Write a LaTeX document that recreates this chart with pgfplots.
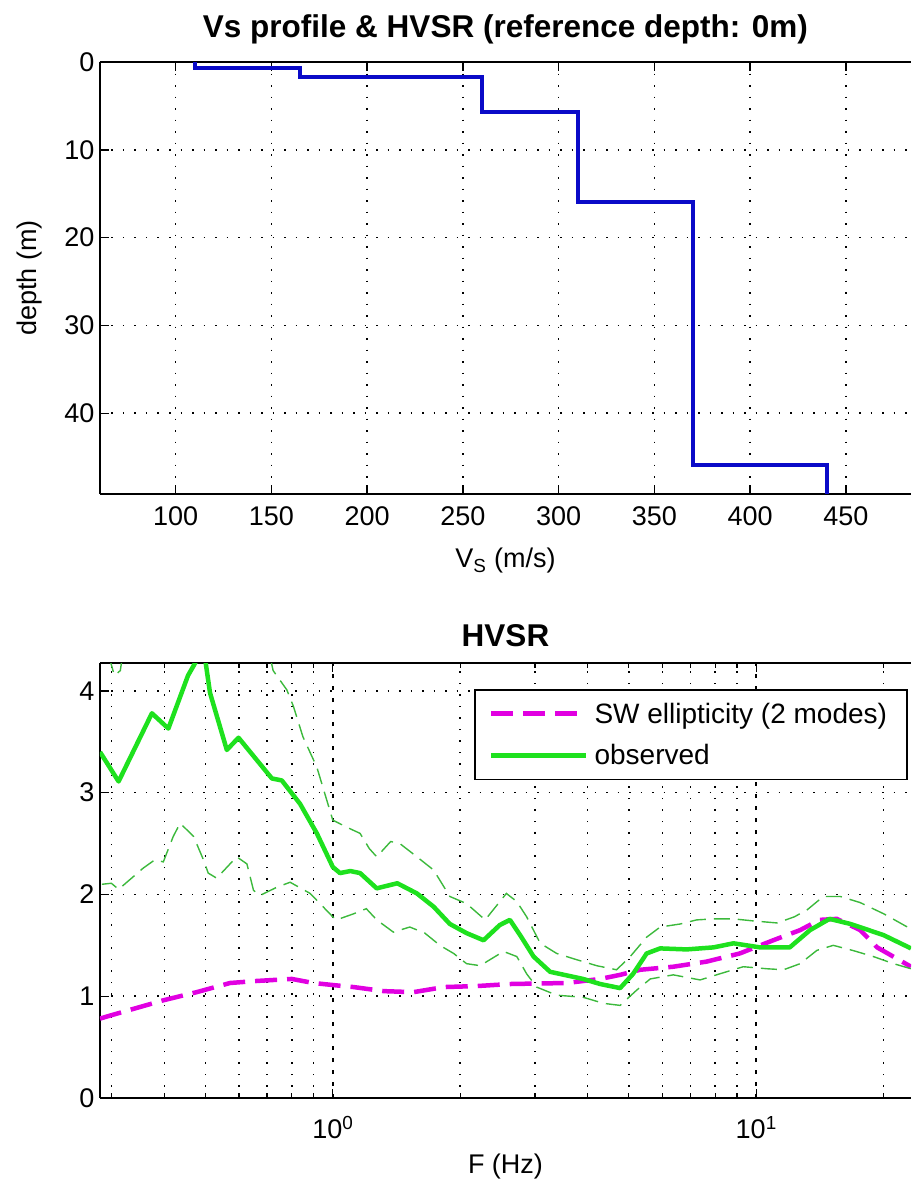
\documentclass[border=0pt]{standalone}
\usepackage{pgfplots}
\pgfplotsset{compat=1.18}
\usepackage{fontspec}
\setmainfont{Liberation Sans}

\definecolor{vsblue}{RGB}{10,10,200}
\definecolor{obsgreen}{RGB}{30,225,30}
\definecolor{stdgreen}{RGB}{60,185,60}
\definecolor{ellmag}{RGB}{225,0,225}

\newcommand{\lblfont}{\fontsize{27}{31}\selectfont}
\newcommand{\lgdfont}{\fontsize{28}{32}\selectfont}
\newcommand{\ttlfont}{\fontsize{31.5}{36}\selectfont\bfseries}

\pgfplotsset{
  mlgrid/.style={
    scale only axis,
    axis y line*=left,
    axis line style={line width=1.6pt},
    every tick/.style={black,line width=1.4pt},
    major tick length=9pt,
    minor tick length=5pt,
    grid=major,
    major grid style={black,line width=1.5pt,dash pattern=on 1.5pt off 10pt},
    minor grid style={black,line width=1.5pt,dash pattern=on 1.5pt off 10pt},
    tick label style={font=\lblfont},
    label style={font=\lblfont},
    title style={font=\ttlfont},
    /pgf/number format/assume math mode=true,
    yticklabel style={xshift=-2pt},
  }
}

\begin{document}
\begin{tikzpicture}
\useasboundingbox (0pt,0pt) rectangle (911pt,-1192pt);

% Shear-wave velocity profile
\begin{axis}[
  mlgrid,
  at={(100pt,-62pt)}, anchor=north west,
  width=811pt, height=432pt,
  xmin=60.5, xmax=484,
  ymin=0, ymax=49.2, y dir=reverse,
  xtick={100,150,...,450},
  ytick={0,10,20,30,40},
  xticklabel style={yshift=-9pt},
  title={Vs profile \& HVSR (reference depth: 0m)},
  title style={at={(axis description cs:0.5,1.062)},anchor=center},
  xlabel={V\textsubscript{S} (m/s)},
  xlabel style={at={(axis description cs:0.5,-0.155)},anchor=center},
  ylabel={depth (m)},
  ylabel style={at={(axis description cs:-0.087,0.5)},anchor=center,rotate=0},
]
\addplot[vsblue,line width=4pt,line join=miter] coordinates {
  (110,0) (110,0.7) (165,0.7) (165,1.7) (260,1.7) (260,5.7)
  (310,5.7) (310,15.9) (370,15.9) (370,45.9) (440,45.9) (440,49.2)
};
\end{axis}

% H/V spectral ratio
\begin{axis}[
  mlgrid,
  at={(100pt,-663pt)}, anchor=north west,
  width=811pt, height=435pt,
  xmode=log,
  xmin=0.282, xmax=23.2,
  ymin=0, ymax=4.274,
  xtick={1,10},
  xticklabels={10\textsuperscript{0},10\textsuperscript{1}},
  xticklabel style={yshift=-15pt},
  minor xtick={0.3,0.4,0.5,0.6,0.7,0.8,0.9,2,3,4,5,6,7,8,9,20},
  xminorgrids=true,
  major x grid style={black,line width=1.6pt,dash pattern=on 4pt off 8pt},
  ytick={0,1,2,3,4},
  title={HVSR},
  title style={at={(axis description cs:0.5,1.0485)},anchor=center},
  xlabel={F (Hz)},
  xlabel style={at={(axis description cs:0.5,-0.158)},anchor=center},
  legend style={
    at={(axis description cs:0.996,0.940)}, anchor=north east,
    draw=black, line width=1.4pt, fill=white,
    font=\lgdfont, inner xsep=14pt, inner ysep=11pt,
    row sep=16pt,
    nodes={inner xsep=6pt},
  },
  legend cell align=left,
  legend image code/.code={\draw[#1] (0pt,0pt) -- (95pt,0pt);},
]
\addplot[ellmag,line width=4.5pt,dash pattern=on 22pt off 10pt] coordinates {
  (0.282,0.78) (0.298,0.81) (0.398,0.96) (0.477,1.04) (0.572,1.13)
  (0.661,1.15) (0.80,1.17) (0.90,1.13) (1.0,1.11) (1.12,1.09)
  (1.32,1.05) (1.55,1.04) (1.83,1.09) (2.19,1.10) (2.62,1.12)
  (3.57,1.13) (4.28,1.17) (4.77,1.21) (5.32,1.26) (6.37,1.29)
  (7.63,1.34) (9.14,1.42) (10.97,1.55) (12.7,1.65) (14.1,1.75)
  (15.5,1.76) (17.6,1.65) (19.3,1.48) (23.2,1.29)
};
\addlegendentry{SW ellipticity (2 modes)}
\addplot[obsgreen,line width=4.5pt,line join=round] coordinates {
  (0.282,3.40) (0.312,3.11) (0.374,3.78) (0.409,3.63) (0.455,4.15)
  (0.48,4.32) (0.50,4.30) (0.513,3.98) (0.562,3.42) (0.599,3.54)
  (0.718,3.14) (0.758,3.12) (0.837,2.89) (0.917,2.60) (1.00,2.27)
  (1.04,2.21) (1.10,2.23) (1.16,2.21) (1.27,2.06) (1.42,2.11)
  (1.58,2.01) (1.73,1.88) (1.89,1.71) (2.07,1.62) (2.27,1.55)
  (2.48,1.70) (2.62,1.75) (2.77,1.60) (2.98,1.39) (3.26,1.24)
  (3.90,1.17) (4.28,1.12) (4.77,1.08) (5.12,1.22) (5.51,1.42)
  (5.93,1.47) (6.85,1.46) (7.93,1.48) (8.84,1.52) (10.2,1.48)
  (12.0,1.48) (13.4,1.65) (14.9,1.76) (16.7,1.71) (20.0,1.60)
  (23.2,1.47)
};
\addlegendentry{observed}
% standard deviation bounds of the observed ratio
\addplot[stdgreen,line width=1.4pt,dash pattern=on 16pt off 8pt,forget plot] coordinates {
  (0.282,4.8) (0.298,4.3) (0.305,4.15) (0.315,4.2) (0.33,4.8)
  (0.40,5.2) (0.50,5.5) (0.60,5.2) (0.68,4.7) (0.723,4.2)
  (0.779,4.01) (0.807,3.85) (0.85,3.55) (0.917,3.25) (1.0,2.73)
  (1.08,2.66) (1.16,2.60) (1.22,2.45) (1.27,2.37) (1.37,2.52)
  (1.44,2.50) (1.58,2.37) (1.73,2.24) (1.79,2.14) (1.89,1.98)
  (2.07,1.91) (2.29,1.75) (2.57,2.01) (2.72,1.93) (2.87,1.78)
  (3.09,1.52) (3.38,1.42) (3.76,1.36) (4.20,1.30) (4.68,1.26)
  (5.04,1.39) (5.51,1.58) (5.93,1.68) (6.62,1.71) (7.23,1.75)
  (7.93,1.76) (8.84,1.76) (9.84,1.74) (11.2,1.72) (12.3,1.78)
  (13.2,1.85) (14.4,1.98) (15.8,1.98) (17.6,1.92) (20.0,1.81)
  (23.2,1.66)
};
\addplot[stdgreen,line width=1.4pt,dash pattern=on 16pt off 8pt,forget plot] coordinates {
  (0.285,2.10) (0.30,2.11) (0.312,2.05) (0.357,2.26) (0.38,2.34)
  (0.398,2.32) (0.42,2.57) (0.436,2.70) (0.469,2.57) (0.495,2.34)
  (0.508,2.21) (0.532,2.16) (0.593,2.37) (0.627,2.30) (0.65,2.04)
  (0.673,1.99) (0.737,2.07) (0.793,2.12) (0.884,2.01) (0.933,1.91)
  (1.0,1.78) (1.02,1.75) (1.12,1.81) (1.20,1.86) (1.27,1.75)
  (1.39,1.63) (1.52,1.68) (1.65,1.62) (1.79,1.50) (1.93,1.42)
  (2.07,1.32) (2.23,1.30) (2.31,1.34) (2.53,1.44) (2.72,1.39)
  (2.87,1.22) (3.03,1.09) (3.38,1.01) (3.90,0.99) (4.36,0.93)
  (4.77,0.91) (5.22,1.06) (5.62,1.17) (6.37,1.21) (7.37,1.16)
  (8.20,1.22) (9.32,1.29) (10.6,1.27) (11.6,1.26) (12.7,1.32)
  (13.9,1.45) (15.2,1.50) (16.9,1.45) (18.9,1.39) (21.1,1.32)
  (23.2,1.27)
};
\end{axis}
\end{tikzpicture}
\end{document}
